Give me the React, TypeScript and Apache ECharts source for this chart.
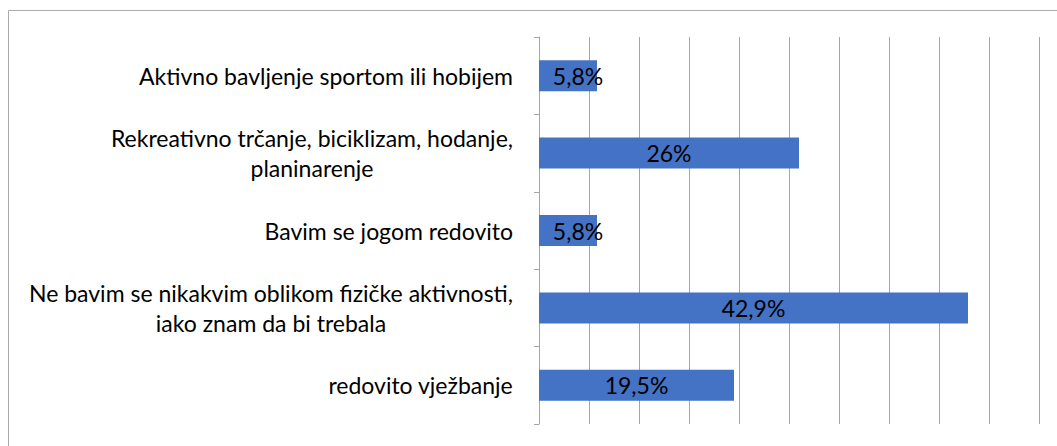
import React, { useEffect, useRef } from "react";
import * as echarts from "echarts";

const categories: string[] = [
  "Aktivno bavljenje sportom ili hobijem",
  "Rekreativno trčanje, biciklizam, hodanje,\nplaninarenje",
  "Bavim se jogom redovito",
  "Ne bavim se nikakvim oblikom fizičke aktivnosti,\niako znam da bi trebala",
  "redovito vježbanje",
];
const values: number[] = [5.8, 26, 5.8, 42.9, 19.5];
const axisMin = 0;
const axisMax = 50;
const axisStep = 5;

const FONT = "Lato";
const FONT_SIZE = 23;
const GRID_COLOR = "#a6a6a6";
const BAR_COLOR = "#4472C4";

const fmt = (v: number) => String(v).replace(".", ",") + "%";

export default function App() {
  const ref = useRef<HTMLDivElement>(null);
  useEffect(() => {
    if (!ref.current) return;
    const chart = echarts.init(ref.current, null, { renderer: "svg" });
    chart.setOption({
      animation: false,
      backgroundColor: "#ffffff",
      graphic: [
        {
          type: "rect",
          z: -10,
          silent: true,
          shape: { x: 8.5, y: 10.5, width: 1200, height: 600 },
          style: { fill: "none", stroke: "#ababab", lineWidth: 1 },
        },
      ],
      grid: { left: 539, right: 18, top: 37, bottom: 22, containLabel: false },
      xAxis: {
        type: "value",
        min: axisMin,
        max: axisMax,
        interval: axisStep,
        axisLabel: { show: false },
        axisLine: { show: false },
        axisTick: { show: false },
        splitLine: { show: true, lineStyle: { color: GRID_COLOR, width: 1 } },
      },
      yAxis: {
        type: "category",
        inverse: true,
        data: categories,
        axisLine: { show: true, lineStyle: { color: GRID_COLOR, width: 1 } },
        axisTick: { show: true, length: 5, lineStyle: { color: GRID_COLOR } },
        axisLabel: {
          interval: 0,
          margin: 26,
          color: "#000",
          fontFamily: FONT,
          fontSize: FONT_SIZE,
          lineHeight: 30,
          formatter: (v: string) =>
            v
              .split("\n")
              .map((l) => `{c|${l}}`)
              .join("\n"),
          rich: {
            c: {
              align: "center",
              color: "#000",
              fontFamily: FONT,
              fontSize: FONT_SIZE,
              lineHeight: 30,
            },
          },
        },
      },
      series: [
        {
          type: "bar",
          barWidth: 31,
          itemStyle: { color: BAR_COLOR },
          label: {
            show: true,
            position: "inside",
            color: "#000",
            fontFamily: FONT,
            fontSize: FONT_SIZE,
            formatter: (p: any) => fmt(p.value),
          },
          data: values.map((v) =>
            v < 10 ? { value: v, label: { offset: [10, 0] } } : { value: v }
          ),
        },
      ],
    });
    return () => chart.dispose();
  }, []);
  return (
    <div
      ref={ref}
      style={{ position: "absolute", left: 0, top: 0, width: 1057, height: 446 }}
    />
  );
}
